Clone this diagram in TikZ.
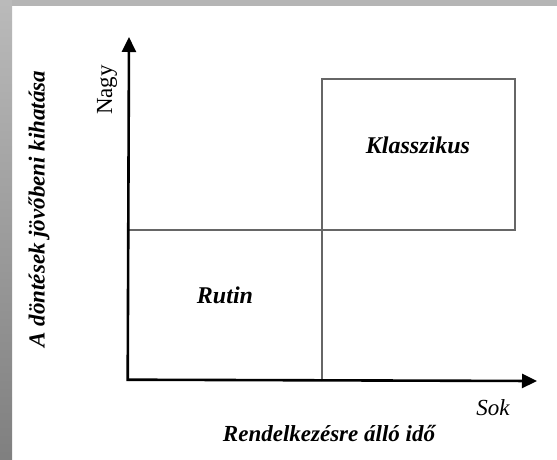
\documentclass[tikz,border=0pt]{standalone}
\usepackage{fontspec}
\setmainfont{Liberation Serif}
\usetikzlibrary{arrows.meta}
\begin{document}
\begin{tikzpicture}[x=1pt,y=-1pt,
  axis/.style={line width=2.6pt,-{Triangle[length=15pt,width=14pt]}},
  grid/.style={draw=black!60,line width=1.3pt},
  quad/.style={font=\fontsize{24}{28}\selectfont\bfseries\itshape},
  lbl/.style={font=\fontsize{23}{27}\selectfont\bfseries\itshape}]
\useasboundingbox (0,0) rectangle (557,459);
\fill[white] (0,0) rectangle (557,459);
\fill[black!29] (0,0) rectangle (557,6);
\shade[top color=black!27,bottom color=black!50] (0,0) rectangle (12,459);
% grid
\coordinate (o) at (129,381);
\coordinate (ytip) at (129,37);
\coordinate (xtip) at (537,381);
\coordinate (hl) at (129,230);
\coordinate (mb) at (322,381);
\node[grid,rectangle,minimum width=193pt,minimum height=151pt,inner sep=0pt,outer sep=0pt,anchor=north west] (kl) at (322,79) {};
\draw[grid] (hl) -- (kl.south west);
\draw[grid] (mb) -- (kl.south west);
\draw[axis] ([xshift=-1.3pt]o) -- (ytip);
\draw[axis] ([yshift=1.3pt]o) -- (xtip);
\node[quad] (klt) at (418,145) {Klasszikus};
\node[quad] (rt) at (225,295) {Rutin};
\node[font=\fontsize{23}{27}\selectfont\itshape] (sok) at (493,408) {Sok};
\node[lbl] (xl) at (329,433) {Rendelkezésre álló idő};
\node[lbl,rotate=90] (yl) at (39,209) {A döntések jövőbeni kihatása};
\node[font=\fontsize{23}{27}\selectfont,rotate=90] (nagy) at (107,90) {Nagy};
\end{tikzpicture}
\end{document}
